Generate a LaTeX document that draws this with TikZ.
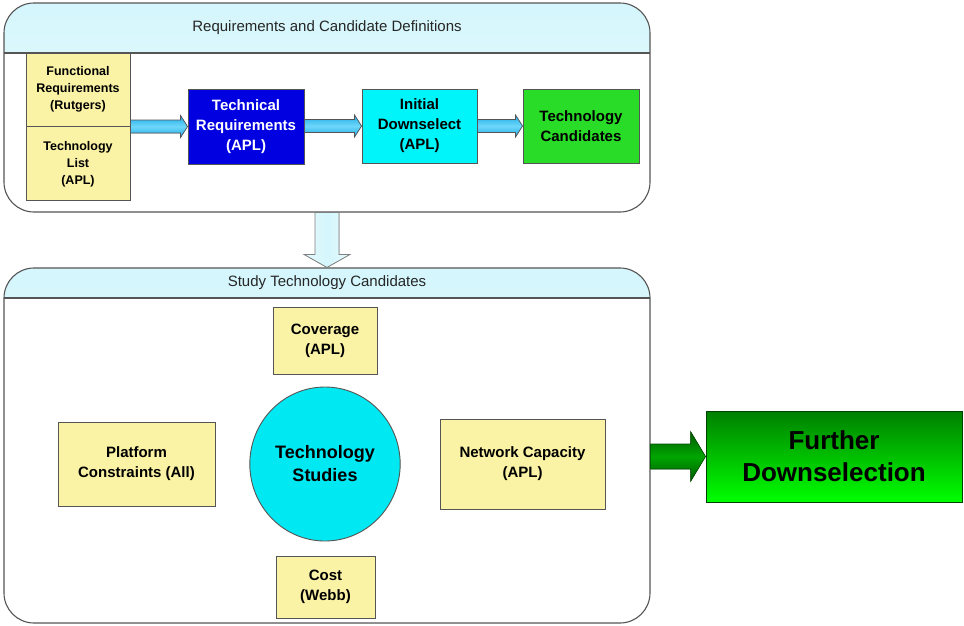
\documentclass[tikz,border=0pt]{standalone}
\usepackage{fontspec}
\setmainfont{Liberation Sans}
\usepackage{xcolor}
\usepackage{tikz}
\usetikzlibrary{arrows.meta,positioning,shapes,calc}

\definecolor{paleyellow}{RGB}{250,242,165}
\definecolor{techblue}{RGB}{0,0,225}
\definecolor{downcyan}{RGB}{0,245,250}
\definecolor{candgreen}{RGB}{40,220,40}
\definecolor{studycyan}{RGB}{0,232,242}
\definecolor{flowblue}{RGB}{30,170,230}
\definecolor{flowlight}{RGB}{110,215,250}
\definecolor{headcyan}{RGB}{212,246,252}
\definecolor{edgegray}{RGB}{85,85,85}

% fat block arrow: style, from, to, shaft half width, head half width, head length
\newcommand{\fatarrow}[6]{%
  \filldraw[#1] ($(#3 -| #2)+(0,-#4)$) -- ($(#3)+(-#6,-#4)$) -- ($(#3)+(-#6,-#5)$) -- (#3)
    -- ($(#3)+(-#6,#5)$) -- ($(#3)+(-#6,#4)$) -- ($(#3 -| #2)+(0,#4)$) -- cycle;}

\begin{document}
\begin{tikzpicture}[x=1pt, y=-1pt,
  panel/.style={draw=edgegray, line width=1.1pt, rounded corners=30pt, fill=white,
    path picture={
      \shade[sharp corners, top color=headcyan, bottom color=headcyan!35]
        (path picture bounding box.north west) rectangle ($(path picture bounding box.north east)+(0,#1)$);
      \draw[sharp corners, edgegray, line width=1.1pt] ($(path picture bounding box.north west)+(0,#1)$) -- ($(path picture bounding box.north east)+(0,#1)$);
    }},
  title/.style={font=\fontsize{15}{18}\selectfont, text=black!85},
  inbox/.style={draw=edgegray, line width=0.9pt, fill=paleyellow, align=center, inner sep=0pt,
    minimum width=104pt, font=\bfseries\fontsize{12.5}{17}\selectfont},
  flowbox/.style={draw=edgegray, line width=0.9pt, align=center, inner sep=0pt,
    minimum width=116pt, minimum height=74pt, font=\bfseries\fontsize{15}{20}\selectfont},
  studybox/.style={draw=edgegray, line width=0.9pt, fill=paleyellow, align=center, inner sep=0pt,
    font=\bfseries\fontsize{15}{20}\selectfont},
  flow/.style={draw=edgegray, line width=0.7pt, top color=flowblue, bottom color=flowblue, middle color=flowlight},
  downflow/.style={draw=gray, line width=0.8pt, left color=headcyan!60, right color=headcyan!60, middle color=headcyan},
  greenflow/.style={draw=green!30!black, line width=0.6pt, top color=green!35!black, bottom color=green!35!black, middle color=green!65!black}
]
\useasboundingbox (0,0) rectangle (964,625);

% Panels
\node[panel=50, minimum width=646pt, minimum height=209pt] (req) at (327,107.5) {};
\node[title] (reqtitle) at ($(req.north)+(0,25)$) {Requirements and Candidate Definitions};

\node[panel=30, minimum width=646pt, minimum height=355pt] (study) at (327,445.5) {};
\node[title] (studytitle) at ($(study.north)+(0,15)$) {Study Technology Candidates};

% Arrow between panels
\filldraw[downflow] ($(req.south)+(-12,0)$) -- ($(study.north)+(-12,-13)$) -- ($(study.north)+(-23,-13)$) -- (study.north)
  -- ($(study.north)+(23,-13)$) -- ($(study.north)+(12,-13)$) -- ($(req.south)+(12,0)$) -- cycle;

% Requirements flow
\node[inbox, minimum height=73pt] (funcreq) at (78,89.5) {Functional\\Requirements\\(Rutgers)};
\node[inbox, minimum height=74pt, below=0pt of funcreq] (techlist) {Technology\\List\\(APL)};
\node[flowbox, fill=techblue, text=white, minimum height=75pt] (techreq) at (246,126.5) {Technical\\Requirements\\(APL)};
\node[flowbox, fill=downcyan, minimum width=115pt] (initdown) at (419.5,126) {Initial\\Downselect\\(APL)};
\node[flowbox, fill=candgreen] (techcand) at (581,126) {Technology\\Candidates};

\fatarrow{flow}{funcreq.south east}{techreq.west}{6.5}{11}{7}
\fatarrow{flow}{techreq.east}{initdown.west}{6.5}{11}{7}
\fatarrow{flow}{initdown.east}{techcand.west}{6.5}{11}{7}

% Studies
\node[ellipse, draw=edgegray, line width=0.9pt, fill=studycyan, minimum width=150pt, minimum height=154pt,
  align=center, font=\bfseries\fontsize{18}{23}\selectfont] (techstud) at (325,464) {Technology\\Studies};
\node[studybox, minimum width=104pt, minimum height=67pt] (coverage) at (325,340.5) {Coverage\\(APL)};
\node[studybox, minimum width=157pt, minimum height=84pt] (platform) at (136.5,464) {Platform\\Constraints (All)};
\node[studybox, minimum width=165pt, minimum height=90pt] (netcap) at (522.5,464) {Network Capacity\\(APL)};
\node[studybox, minimum width=99pt, minimum height=62pt] (cost) at (325.5,587) {Cost\\(Webb)};

% Further downselection
\node[draw=green!25!black, line width=0.9pt, top color=green!50!black, bottom color=green, minimum width=256pt, minimum height=91pt,
  align=center, font=\bfseries\fontsize{26}{32}\selectfont] (further) at (834,456.5) {Further\\Downselection};
\fatarrow{greenflow}{study.east}{further.west}{12.5}{25}{15}

\end{tikzpicture}
\end{document}
